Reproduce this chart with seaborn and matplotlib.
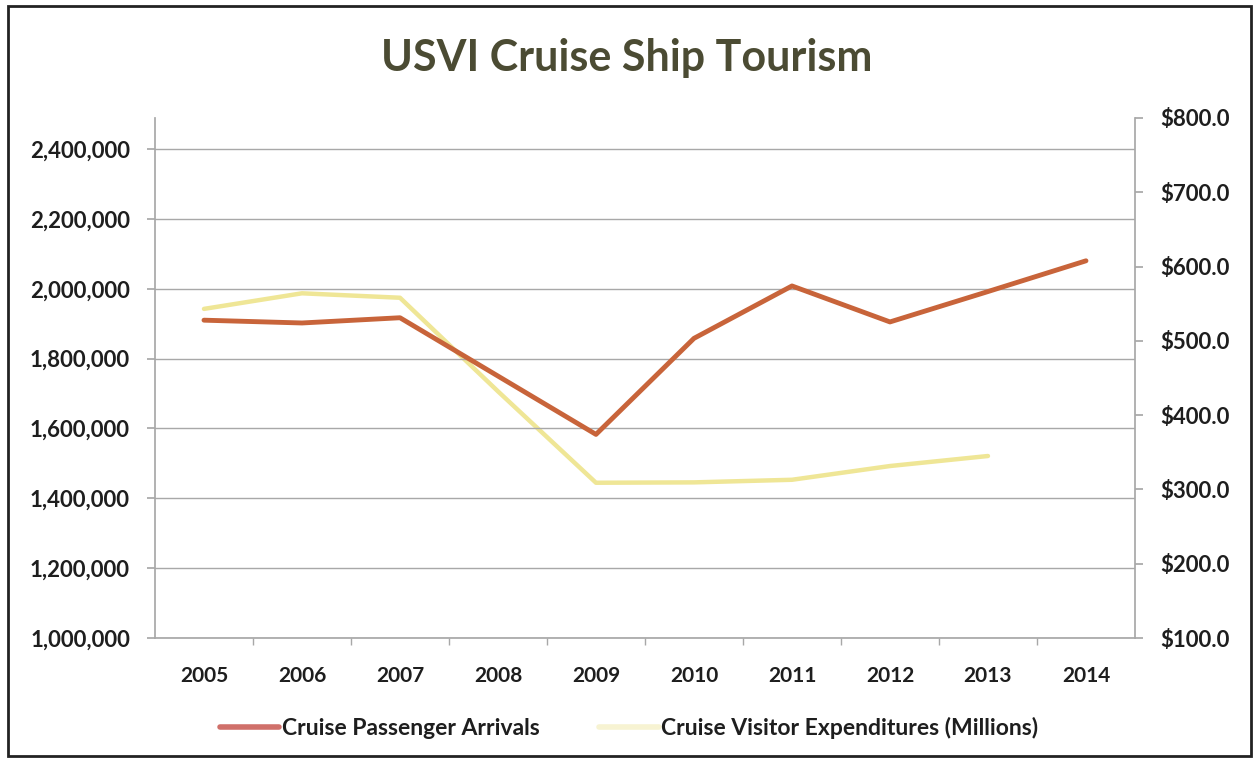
import matplotlib
matplotlib.use("Agg")
import matplotlib.pyplot as plt
import matplotlib.patches as mpatches
from matplotlib.ticker import FuncFormatter, MultipleLocator
from matplotlib.lines import Line2D
import seaborn as sns
import pandas as pd

years = [2005, 2006, 2007, 2008, 2009, 2010, 2011, 2012, 2013, 2014]
passenger_arrivals = [1910000, 1902000, 1917000, 1750000, 1583000,
                      1858000, 2008000, 1905000, 1992000, 2080000]
expenditure_years = [2005, 2006, 2007, 2008, 2009, 2010, 2011, 2012, 2013]
visitor_expenditures = [543.0, 564.0, 558.0, 432.0, 309.0, 309.5, 313.0, 331.5, 345.0]

title = "USVI Cruise Ship Tourism"
arrivals_label = "Cruise Passenger Arrivals"
spend_label = "Cruise Visitor Expenditures (Millions)"

ORANGE = "#C8643A"
YELLOW = "#EFE696"
TITLE_COLOR = "#4B4B33"
TEXT = "#1E1E1E"
GRID = "#A8A8A8"

sns.set_theme(style="white")
plt.rcParams["font.family"] = ["Lato", "DejaVu Sans"]

arrivals = pd.DataFrame({"year": years, "value": passenger_arrivals})
spend = pd.DataFrame({"year": expenditure_years, "value": visitor_expenditures})

fig = plt.figure(figsize=(12.58, 7.61), dpi=100)
ax = fig.add_axes([0.1232, 0.1616, 0.7790, 0.6834])
ax2 = ax.twinx()

sns.lineplot(data=spend, x="year", y="value", ax=ax2, color=YELLOW,
             linewidth=3.2, legend=False)
sns.lineplot(data=arrivals, x="year", y="value", ax=ax, color=ORANGE,
             linewidth=3.5, legend=False)
ax.set_zorder(ax2.get_zorder() + 1)
ax.patch.set_visible(False)

ax.set_xlim(2004.5, 2014.5)
ax.set_ylim(1000000, 2489000)
ax2.set_ylim(100, 800)

ax.set_yticks(range(1000000, 2400001, 200000))
ax.yaxis.set_major_formatter(FuncFormatter(lambda v, p: f"{int(v):,}"))
ax2.yaxis.set_major_locator(MultipleLocator(100))
ax2.yaxis.set_major_formatter(FuncFormatter(lambda v, p: f"${v:.1f}"))

ax.set_xticks(years)
ax.set_xticklabels([str(y) for y in years])
ax.set_xticks([y + 0.5 for y in years[:-1]], minor=True)

ax.grid(axis="y", color=GRID, linewidth=1.0)
ax.grid(axis="x", visible=False)
ax2.grid(False)
ax.set_xlabel("")
ax.set_ylabel("")
ax2.set_ylabel("")

for a in (ax, ax2):
    for s in a.spines.values():
        s.set_visible(False)
ax.spines["left"].set_visible(True)
ax.spines["left"].set_color(GRID)
ax.spines["bottom"].set_visible(True)
ax.spines["bottom"].set_color(GRID)
ax2.spines["right"].set_visible(True)
ax2.spines["right"].set_color(GRID)

ax.tick_params(axis="y", which="major", length=6, color=GRID, direction="out",
               labelsize=16, labelcolor=TEXT, pad=12, left=True)
ax.tick_params(axis="x", which="major", length=0, labelsize=15,
               labelcolor=TEXT, pad=20, bottom=True)
ax.tick_params(axis="x", which="minor", length=5, color=GRID, direction="out",
               bottom=True)
ax2.tick_params(axis="y", length=6, color=GRID, direction="out",
                labelsize=16, labelcolor=TEXT, pad=12, right=True)
for lbl in ax.get_yticklabels() + ax.get_xticklabels() + ax2.get_yticklabels():
    lbl.set_fontweight("bold")

fig.text(0.498, 0.924, title, ha="center", va="center", fontsize=31,
         fontweight="bold", color=TITLE_COLOR)

handles = [Line2D([], [], color="#D0706A", linewidth=4),
           Line2D([], [], color="#F7F3D2", linewidth=4)]
leg = fig.legend(handles, [arrivals_label, spend_label], loc="center",
                 bbox_to_anchor=(0.5, 0.044), ncol=2, frameon=False,
                 fontsize=16.5, handlelength=2.6, handletextpad=0.1,
                 columnspacing=2.6)
for t in leg.get_texts():
    t.set_fontweight("bold")
    t.set_color(TEXT)

fig.patches.append(mpatches.Rectangle((0.0065, 0.006), 0.988, 0.986,
                                      transform=fig.transFigure, fill=False,
                                      edgecolor="#222222", linewidth=2.0))

fig.savefig("out.png", dpi=100, facecolor="white")
